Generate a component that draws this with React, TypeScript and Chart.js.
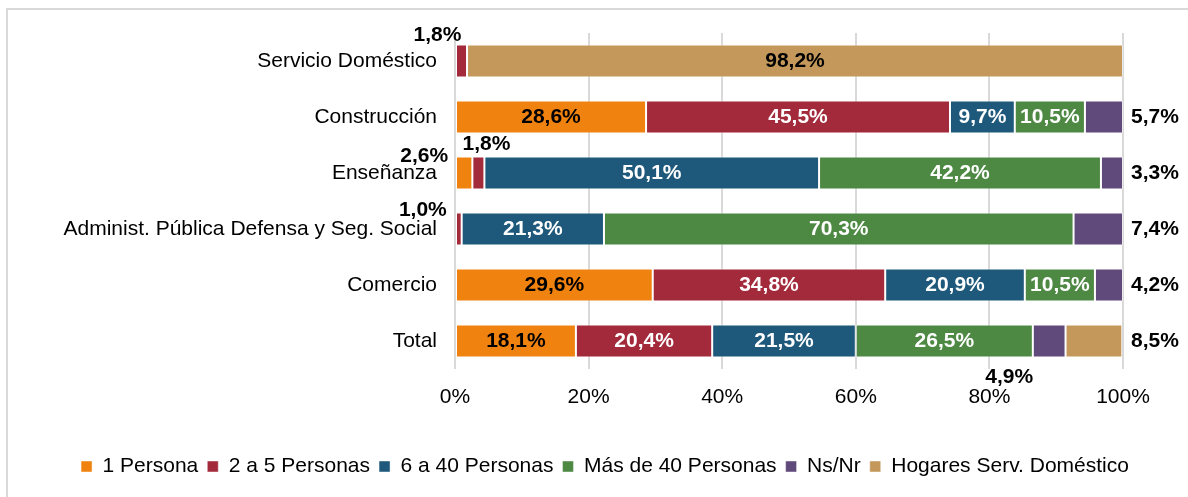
import React, { useEffect, useRef } from "react";
import { Chart, registerables } from "chart.js";

Chart.register(...registerables);

const categories = [
  "Servicio Doméstico",
  "Construcción",
  "Enseñanza",
  "Administ. Pública Defensa y Seg. Social",
  "Comercio",
  "Total",
];

const seriesNames = [
  "1 Persona",
  "2 a 5 Personas",
  "6 a 40 Personas",
  "Más de 40 Personas",
  "Ns/Nr",
  "Hogares Serv. Doméstico",
];

const unaPersona = [0, 28.6, 2.6, 0, 29.6, 18.1];
const dosACinco = [1.8, 45.5, 1.8, 1.0, 34.8, 20.4];
const seisACuarenta = [0, 9.7, 50.1, 21.3, 20.9, 21.5];
const masDeCuarenta = [0, 10.5, 42.2, 70.3, 10.5, 26.5];
const nsNr = [0, 5.7, 3.3, 7.4, 4.2, 4.9];
const hogares = [98.2, 0, 0, 0, 0, 8.5];

const xTicks = [0, 20, 40, 60, 80, 100];

const seriesValues = [unaPersona, dosACinco, seisACuarenta, masDeCuarenta, nsNr, hogares];
const colors = ["#F0820F", "#A32A3B", "#1E587B", "#4E8944", "#604A7B", "#C3985A"];
const insideTextColor = ["#000", "#fff", "#fff", "#fff", "#fff", "#000"];

// label placement: key "series-category" -> offset from segment centre, or "right" of plot
const offsetLabels: Record<string, [number, number]> = {
  "1-0": [-24, -26],
  "0-2": [-40, -17],
  "1-2": [8, -29],
  "1-3": [-36, -19],
  "4-5": [-40, 36],
};
const rightLabels = new Set(["4-1", "4-2", "4-3", "4-4", "5-5"]);

const fmt = (v: number) => v.toFixed(1).replace(".", ",") + "%";

const FONT = "'Liberation Sans', Arial, Helvetica, sans-serif";
const FS = 21;

const labelPlugin = {
  id: "segLabels",
  afterDatasetsDraw(chart: any) {
    const ctx = chart.ctx;
    const area = chart.chartArea;
    ctx.save();
    ctx.font = `bold ${FS}px ${FONT}`;
    ctx.textAlign = "center";
    ctx.textBaseline = "middle";
    chart.data.datasets.forEach((ds: any, si: number) => {
      const meta = chart.getDatasetMeta(si);
      meta.data.forEach((el: any, ci: number) => {
        const v = ds.data[ci];
        if (!v) return;
        const key = `${si}-${ci}`;
        const cx = (el.x + el.base) / 2;
        const cy = el.y;
        if (rightLabels.has(key)) {
          ctx.fillStyle = "#000";
          ctx.fillText(fmt(v), area.right + 32, cy);
        } else if (offsetLabels[key]) {
          const [dx, dy] = offsetLabels[key];
          ctx.fillStyle = "#000";
          ctx.fillText(fmt(v), cx + dx, cy + dy);
        } else {
          ctx.fillStyle = insideTextColor[si];
          ctx.fillText(fmt(v), cx, cy);
        }
      });
    });
    ctx.restore();
  },
};

export default function App() {
  const ref = useRef<HTMLCanvasElement | null>(null);
  useEffect(() => {
    if (!ref.current) return;
    const chart = new Chart(ref.current, {
      type: "bar",
      data: {
        labels: categories,
        datasets: seriesNames.map((name, i) => ({
          label: name,
          data: seriesValues[i],
          backgroundColor: colors[i],
          borderColor: "rgba(255,255,255,0.45)",
          borderWidth: 1,
          borderSkipped: false,
          categoryPercentage: 1,
          barPercentage: 0.59,
        })),
      },
      options: {
        indexAxis: "y",
        animation: false,
        responsive: false,
        maintainAspectRatio: false,
        layout: { padding: { left: 22, right: 0, top: 33, bottom: 10 } },
        scales: {
          x: {
            stacked: true,
            min: 0,
            max: 100,
            afterBuildTicks: (scale: any) => {
              scale.ticks = xTicks.map((v) => ({ value: v }));
            },
            afterFit: (scale: any) => {
              scale.height = 78;
            },
            ticks: {
              callback: (v: any) => v + "%",
              color: "#000",
              font: { size: FS, family: FONT },
              padding: 16,
            },
            grid: { color: "#d9d9d9", lineWidth: 2, drawTicks: false },
            border: { display: false },
          },
          y: {
            stacked: true,
            afterFit: (scale: any) => {
              scale.width = 455 - 22;
            },
            ticks: {
              color: "#000",
              font: { size: FS, family: FONT },
              padding: 18,
            },
            grid: { display: false, drawTicks: false },
            border: { display: false },
          },
          yRight: {
            position: "right",
            type: "category",
            afterFit: (scale: any) => {
              scale.width = 65;
            },
            ticks: { display: false },
            grid: { display: false, drawTicks: false },
            border: { display: false },
          },
        },
        plugins: {
          legend: {
            position: "bottom",
            labels: {
              boxWidth: 11,
              boxHeight: 11,
              color: "#000",
              padding: 9,
              font: { size: FS, family: FONT },
            },
          },
          tooltip: { enabled: false },
        },
      },
      plugins: [labelPlugin],
    });
    return () => chart.destroy();
  }, []);
  return (
    <div style={{ position: "absolute", left: 0, top: 0, width: 1188, height: 497, overflow: "hidden", background: "#fff" }}>
      <div
        style={{
          position: "absolute",
          left: 6,
          top: 8,
          width: 1300,
          height: 600,
          border: "2px solid #d9d9d9",
          boxSizing: "border-box",
        }}
      />
      <canvas ref={ref} width={1188} height={497} style={{ position: "absolute", left: 0, top: 0 }} />
    </div>
  );
}
